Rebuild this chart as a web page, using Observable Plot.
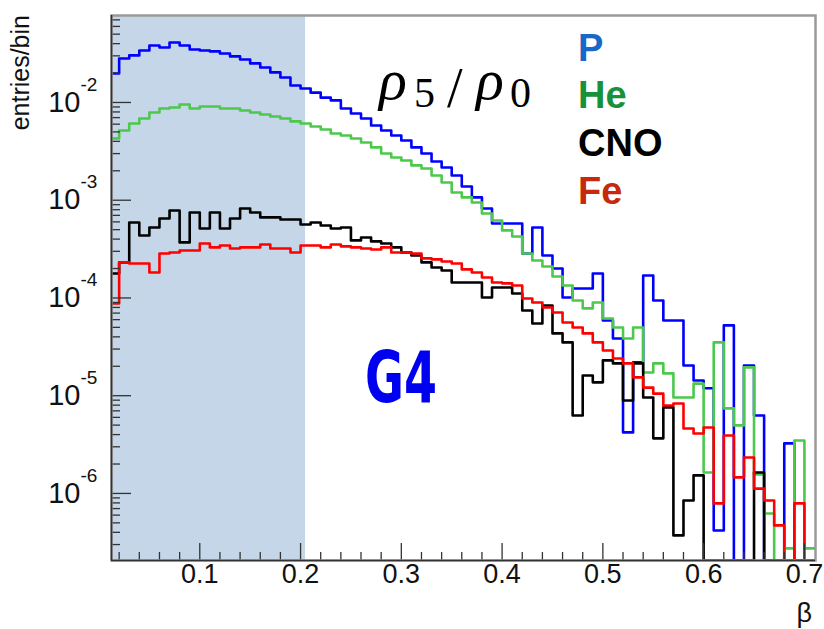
<!DOCTYPE html>
<html><head><meta charset="utf-8">
<script src="https://cdn.jsdelivr.net/npm/d3@7"></script>
<script src="https://cdn.jsdelivr.net/npm/@observablehq/plot@0.6"></script>
<style>body{margin:0;background:#fff} svg{display:block}</style>
</head><body><div id="chart"></div>
<script>
// histogram binning (beta)
const binStart = 0.01;
const binWidth = 0.01;

// entries/bin per series, 70 bins from 0.01 to 0.71 (0 = empty bin)
const pVals = [0.0198,0.0282,0.0303,0.0340,0.0383,0.0365,0.0411,0.0383,0.0348,0.0340,
  0.0333,0.0317,0.0296,0.0275,0.0251,0.0228,0.0203,0.0180,0.0149,0.0139,
  0.0126,0.0112,0.0105,0.00869,0.00771,0.00686,0.00582,0.00517,0.00459,0.00408,
  0.00347,0.00301,0.00249,0.00216,0.00179,0.00138,0.00107,0.000824,0.000578,0.000578,
  0.000578,0.000285,0.000526,0.000272,0.000200,0.000101,0.000125,0.000125,0.000178,5.89e-5,
  3.85e-5,4.21e-6,2.19e-5,0.000170,9.42e-5,5.89e-5,5.89e-5,2.04e-5,1.43e-5,1.19e-5,
  4.18e-7,5.24e-5,0,2.04e-5,6.28e-6,0,0,3.25e-6,0,0];
const heVals = [0.00428,0.00517,0.00610,0.00686,0.00790,0.00869,0.00889,0.00954,0.00869,0.00910,
  0.00910,0.00869,0.00869,0.00828,0.00790,0.00754,0.00719,0.00686,0.00640,0.00610,
  0.00568,0.00529,0.00482,0.00459,0.00428,0.00390,0.00347,0.00301,0.00274,0.00255,
  0.00227,0.00211,0.00179,0.00152,0.00120,0.00107,0.000948,0.000731,0.000621,0.000491,
  0.000426,0.000285,0.000242,0.000210,0.000166,0.000134,9.42e-5,7.82e-5,9.0e-5,6.17e-5,
  4.99e-5,3.85e-5,4.99e-5,1.73e-5,2.14e-5,1.69e-5,9.6e-6,9.6e-6,1.33e-5,1.64e-6,
  3.51e-5,7.41e-6,4.97e-6,1.95e-5,1.56e-6,6.24e-7,0,2.74e-7,3.48e-6,2.74e-7];
const cnoVals = [0.000178,0.000231,0.000592,0.000436,0.000526,0.000650,0.000785,0.000370,0.000749,0.000514,
  0.000749,0.000514,0.000650,0.000824,0.000749,0.000667,0.000667,0.000635,0.000635,0.000565,
  0.000592,0.000552,0.000514,0.000526,0.000388,0.000416,0.000379,0.000361,0.000329,0.000292,
  0.000272,0.000231,0.000205,0.000191,0.000144,0.000144,0.000144,0.000101,0.000128,0.000128,
  0.000111,7.45e-5,5.48e-5,8.38e-5,4.34e-5,3.51e-5,6.28e-6,1.61e-5,1.37e-5,2.30e-5,
  2.14e-5,8.94e-6,2.14e-5,9.6e-6,3.66e-6,7.59e-6,3.72e-7,8.47e-7,1.53e-6,0,
  0,0,0,0,1.64e-6,0,0,0,0,0];
const feVals = [8.79e-5,0.000231,0.000225,0.000225,0.000182,0.000285,0.000292,0.000306,0.000306,0.000361,
  0.000329,0.000344,0.000321,0.000329,0.000329,0.000352,0.000321,0.000321,0.000292,0.000344,
  0.000344,0.000329,0.000352,0.000337,0.000329,0.000321,0.000313,0.000329,0.000292,0.000292,
  0.000285,0.000254,0.000248,0.000236,0.000225,0.000196,0.000182,0.000162,0.000144,0.000141,
  0.000134,9.89e-5,9.0e-5,8.0e-5,7.11e-5,5.61e-5,4.99e-5,4.34e-5,3.51e-5,2.90e-5,
  2.40e-5,2.14e-5,1.54e-5,1.21e-5,1.05e-5,7.94e-6,8.33e-6,4.62e-6,4.11e-6,4.73e-6,
  7.91e-7,3.92e-6,1.46e-6,2.33e-6,1.12e-6,8.47e-7,4.71e-7,0,7.91e-7,0];

const seriesNames = ["P","He","CNO","Fe"];
const lineColors = ["#0000ff","#4cc84c","#000000","#ff0000"];
const legendColors = ["#1668c9","#17913a","#000000","#c52a0c"];

const xDomain = [0.0124, 0.711];
const yDomain = [2.06e-7, 0.0776];
const shadeRange = [0.0124, 0.205];

const xMajorTicks = [0.1,0.2,0.3,0.4,0.5,0.6,0.7];
const xMinorTicks = [0.02,0.04,0.06,0.08,0.12,0.14,0.16,0.18,0.22,0.24,0.26,0.28,
  0.32,0.34,0.36,0.38,0.42,0.44,0.46,0.48,0.52,0.54,0.56,0.58,0.62,0.64,0.66,0.68];
const yLabelExps = [-6,-5,-4,-3,-2];
const yDecades = [-7,-6,-5,-4,-3,-2];
const yMantissas = [2,3,4,5,6,7,8,9];

const W = 824, H = 629;
const mL = 111, mR = 9, mT = 15, mB = 69;
const fw = W - mL - mR, fh = H - mT - mB;

const allVals = [pVals, heVals, cnoVals, feVals];
const steps = [];
allVals.forEach((vals, s) => {
  vals.forEach((v, i) => {
    const x0 = binStart + i * binWidth;
    steps.push({series: seriesNames[s], x: x0, v});
    steps.push({series: seriesNames[s], x: x0 + binWidth, v});
  });
});
const yMajor = yDecades.map(e => 10 ** e).filter(v => v >= yDomain[0] && v <= yDomain[1]);
const yMinor = [];
yDecades.forEach(e => yMantissas.forEach(m => { const v = m * 10 ** e; if (v >= yDomain[0] && v <= yDomain[1]) yMinor.push(v); }));

const plot = Plot.plot({
  width: W, height: H,
  marginLeft: mL, marginRight: mR, marginTop: mT, marginBottom: mB,
  x: {domain: xDomain, axis: null},
  y: {type: "log", domain: yDomain, axis: null},
  marks: [
    Plot.rect([shadeRange], {x1: d => d[0], x2: d => d[1], y1: yDomain[0], y2: yDomain[1], fill: "#c4d6e7"}),
    ...seriesNames.map((name, s) => Plot.line(steps.filter(d => d.series === name), {
      x: "x", y: d => Math.max(d.v, yDomain[0]), stroke: lineColors[s], strokeWidth: 2.6, clip: true
    })),
    Plot.tickY(yMajor, {y: d => d, insetRight: fw - 20, stroke: "#333", strokeWidth: 1.3}),
    Plot.tickY(yMinor, {y: d => d, insetRight: fw - 9, stroke: "#333", strokeWidth: 1.3}),
    Plot.tickX(xMajorTicks, {x: d => d, insetTop: fh - 17, stroke: "#333", strokeWidth: 1.3}),
    Plot.tickX(xMinorTicks, {x: d => d, insetTop: fh - 8, stroke: "#333", strokeWidth: 1.3}),
    Plot.frame({stroke: "#9a9a9a", strokeWidth: 2.5}),
    Plot.ruleX([xDomain[0]], {stroke: "#333", strokeWidth: 1.6}),
    Plot.ruleY([yDomain[0]], {stroke: "#333", strokeWidth: 1.6}),
    Plot.text(yLabelExps, {y: e => 10 ** e, frameAnchor: "left", text: () => "10", textAnchor: "end", dx: -31, fontSize: 29, fontFamily: "Liberation Sans", fill: "#111"}),
    Plot.text(yLabelExps, {y: e => 10 ** e, frameAnchor: "left", text: e => "-" + Math.abs(e), textAnchor: "start", dx: -31, dy: -18, fontSize: 19, fontFamily: "Liberation Sans", fill: "#111"}),
    Plot.text(xMajorTicks, {x: d => d, frameAnchor: "bottom", text: d => String(d), dy: 22, fontSize: 27, fontFamily: "Liberation Sans", fill: "#111"})
  ]
});
document.getElementById("chart").appendChild(plot);

const svg = d3.select(plot);
// axis titles
svg.append("text").attr("transform", "translate(29,15) rotate(-90)").attr("text-anchor", "end")
  .attr("font-family", "Liberation Sans").attr("font-size", 25).attr("fill", "#111").text("entries/bin");
svg.append("text").attr("x", 812).attr("y", 622).attr("text-anchor", "end")
  .attr("font-family", "Liberation Sans").attr("font-size", 27).attr("fill", "#111").text("β");
// legend
const legendBase = [61, 108, 156, 204];
seriesNames.forEach((name, i) => {
  svg.append("text").attr("x", 578).attr("y", legendBase[i]).attr("text-anchor", "start")
    .attr("font-family", "Liberation Sans").attr("font-weight", "bold").attr("font-size", 38)
    .attr("fill", legendColors[i]).text(name);
});
// formula rho5/rho0
const formula = [
  {t: "ρ", x: 379, y: 99, s: 58, it: true},
  {t: "5", x: 414, y: 107, s: 42, it: false},
  {t: "/", x: 447, y: 107, s: 56, it: false},
  {t: "ρ", x: 476, y: 99, s: 58, it: true},
  {t: "0", x: 510, y: 107, s: 42, it: false}
];
formula.forEach(f => {
  svg.append("text").attr("x", f.x).attr("y", f.y).attr("text-anchor", "start")
    .attr("font-family", "Liberation Serif").attr("font-style", f.it ? "italic" : "normal")
    .attr("font-size", f.s).attr("fill", "#000").text(f.t);
});
// G4
svg.append("text").attr("x", 365).attr("y", 402).attr("text-anchor", "start").attr("font-family", "DejaVu Sans")
  .attr("font-weight", "bold").attr("font-size", 71).attr("textLength", 72)
  .attr("lengthAdjust", "spacingAndGlyphs").attr("fill", "#0000f0").text("G4");
</script>
</body></html>
